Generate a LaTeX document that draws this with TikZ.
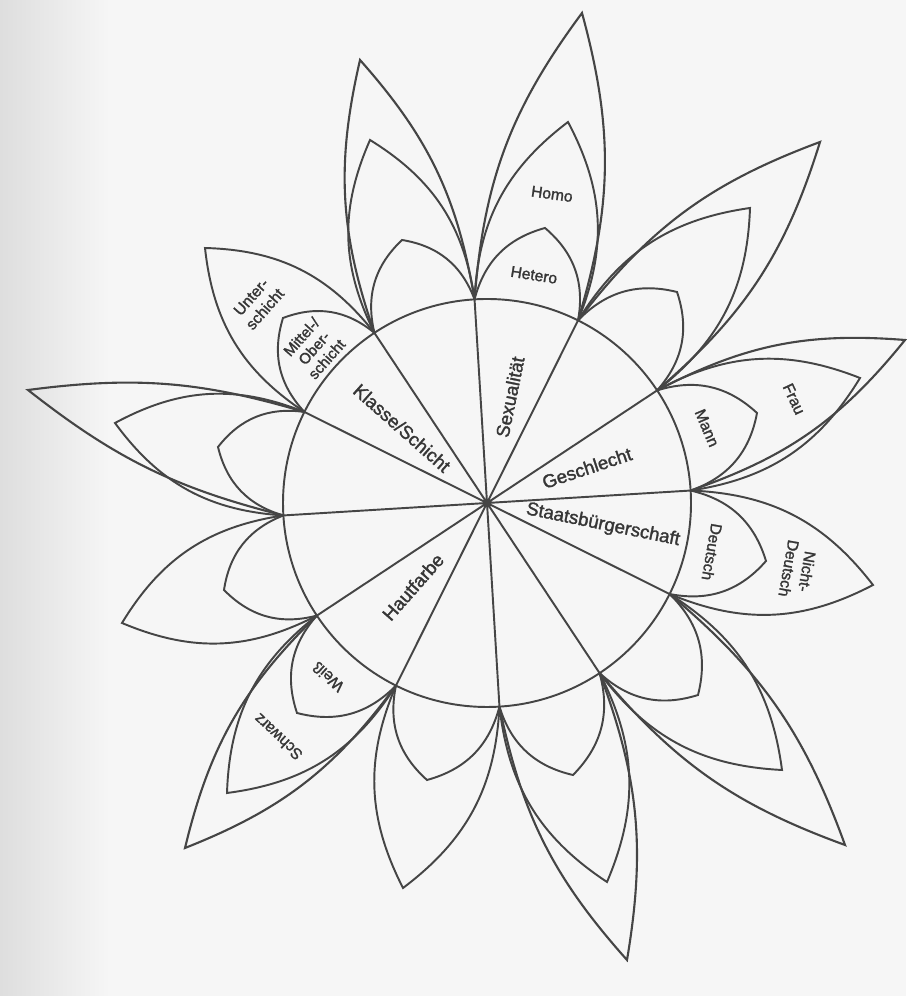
\documentclass[tikz,border=0pt]{standalone}
\usepackage{fontspec}
\setmainfont{Liberation Sans}
\newfontfamily\flowerfont{Liberation Sans}[FakeBold=1.6]
\usetikzlibrary{calc}
\definecolor{inkgray}{HTML}{454545}
\definecolor{textgray}{HTML}{363636}
\definecolor{paper}{HTML}{F6F6F6}

\begin{document}
\begin{tikzpicture}[
  x=0.02cm, y=0.02cm,
  petal/.style={draw=inkgray, line width=1.1pt, line join=miter},
  handpetal/.style={petal, line width=1.2pt},
  sector/.style={font=\flowerfont\fontsize{10.6}{12}\selectfont, text=textgray, inner sep=0pt},
  lbl/.style={font=\flowerfont\fontsize{8.9}{10.5}\selectfont, text=textgray, align=center, inner sep=0pt}
]
  \useasboundingbox[fill=paper] (0,0) rectangle (906,996);
  \shade[left color=black!13, right color=paper] (0,0) rectangle (110,996);

  % centre and the twelve points on the circle
  \coordinate (ctr) at (487,493);
  \coordinate (v0) at ($(ctr)+(3.5:204)$);
  \coordinate (v1) at ($(ctr)+(33.5:204)$);
  \coordinate (v2) at ($(ctr)+(63.5:204)$);
  \coordinate (v3) at ($(ctr)+(93.5:204)$);
  \coordinate (v4) at ($(ctr)+(123.5:204)$);
  \coordinate (v5) at ($(ctr)+(153.5:204)$);
  \coordinate (v6) at ($(ctr)+(183.5:204)$);
  \coordinate (v7) at ($(ctr)+(213.5:204)$);
  \coordinate (v8) at ($(ctr)+(243.5:204)$);
  \coordinate (v9) at ($(ctr)+(273.5:204)$);
  \coordinate (v10) at ($(ctr)+(303.5:204)$);
  \coordinate (v11) at ($(ctr)+(333.5:204)$);

  \draw[petal] (ctr) circle[radius=204];
  \draw[petal] (ctr) -- (v0) (ctr) -- (v1) (ctr) -- (v2) (ctr) -- (v3)
    (ctr) -- (v4) (ctr) -- (v5) (ctr) -- (v6) (ctr) -- (v7)
    (ctr) -- (v8) (ctr) -- (v9) (ctr) -- (v10) (ctr) -- (v11);

  % Geschlecht
  \draw[petal] (v0) to[bend right=30] (757,583) to[bend right=30] (v1);
  \draw[petal] (v0) to[bend right=25] (860,618) to[bend right=25] (v1);
  \draw[handpetal] (v0) to[bend right=16] (905,656) to[bend right=16] (v1);
  % --
  \draw[petal] (v1) to[bend right=30] (677,704) to[bend right=30] (v2);
  \draw[petal] (v1) to[bend right=25] (750,788) to[bend right=25] (v2);
  \draw[handpetal] (v1) to[bend right=16] (820,854) to[bend right=16] (v2);
  % Sexualitaet
  \draw[petal] (v2) to[bend right=30] (545,768) to[bend right=30] (v3);
  \draw[petal] (v2) to[bend right=25] (568,874) to[bend right=25] (v3);
  \draw[handpetal] (v2) to[bend right=16] (582,983) to[bend right=16] (v3);
  % --
  \draw[petal] (v3) to[bend right=30] (402,756) to[bend right=30] (v4);
  \draw[petal] (v3) to[bend right=25] (370,856) to[bend right=25] (v4);
  \draw[handpetal] (v3) to[bend right=16] (360,936) to[bend right=16] (v4);
  % Klasse/Schicht
  \draw[petal] (v4) to[bend right=30] (283,678) to[bend right=30] (v5);
  \draw[petal] (v4) to[bend right=25] (205,748) to[bend right=25] (v5);
  % --
  \draw[petal] (v5) to[bend right=30] (218,549) to[bend right=30] (v6);
  \draw[petal] (v5) to[bend right=25] (115,573) to[bend right=25] (v6);
  \draw[handpetal] (v5) to[bend right=12] (28,606) to[bend right=12] (v6);
  % --
  \draw[petal] (v6) to[bend right=30] (224,406) to[bend right=30] (v7);
  \draw[petal] (v6) to[bend right=25] (122,373) to[bend right=25] (v7);
  % Hautfarbe
  \draw[petal] (v7) to[bend right=30] (297,283) to[bend right=30] (v8);
  \draw[petal] (v7) to[bend right=25] (227,203) to[bend right=25] (v8);
  \draw[handpetal] (v7) to[bend right=16] (185,148) to[bend right=16] (v8);
  % --
  \draw[petal] (v8) to[bend right=30] (427,216) to[bend right=30] (v9);
  \draw[petal] (v8) to[bend right=25] (403,108) to[bend right=25] (v9);
  % --
  \draw[petal] (v9) to[bend right=30] (573,221) to[bend right=30] (v10);
  \draw[petal] (v9) to[bend right=25] (607,114) to[bend right=25] (v10);
  \draw[handpetal] (v9) to[bend right=15] (627,36) to[bend right=15] (v10);
  % --
  \draw[petal] (v10) to[bend right=30] (698,301) to[bend right=30] (v11);
  \draw[petal] (v10) to[bend right=25] (782,226) to[bend right=25] (v11);
  \draw[handpetal] (v10) to[bend right=15] (845,151) to[bend right=15] (v11);
  % Staatsbuergerschaft
  \draw[petal] (v11) to[bend right=30] (766,435) to[bend right=30] (v0);
  \draw[petal] (v11) to[bend right=25] (873,411) to[bend right=25] (v0);

  % labels in the circle
  \node[sector, rotate=78.5] (sex) at (510,599) {Sexualität};
  \node[sector, rotate=18.5] (gen) at (587,528) {Geschlecht};
  \node[sector, rotate=-11.5] (cit) at (603,471) {Staatsbürgerschaft};
  \node[sector, rotate=48.5] (skin) at (413,409) {Hautfarbe};
  \node[sector, rotate=-41.5] (cls) at (402,568) {Klasse/Schicht};

  % labels in the petals
  \node[lbl, rotate=-9] (hetero) at (534,721) {Hetero};
  \node[lbl, rotate=-8] (homo) at (552,802) {Homo};
  \node[lbl, rotate=-67] (mann) at (707,568) {Mann};
  \node[lbl, rotate=-65] (frau) at (794,597) {Frau};
  \node[lbl, rotate=-100] (deu) at (712,444) {Deutsch};
  \node[lbl, rotate=-100] (ndeu) at (798,426) {Nicht-\\Deutsch};
  \node[lbl, rotate=138] (weiss) at (328,319) {Weiß};
  \node[lbl, rotate=137] (schwarz) at (278,259) {Schwarz};
  \node[lbl, rotate=48.5] (unter) at (258,693) {Unter-\\schicht};
  \node[lbl, rotate=48.5, font=\flowerfont\fontsize{8.6}{9.6}\selectfont] (mittel) at (314,648) {Mittel-/\\Ober-\\schicht};
\end{tikzpicture}
\end{document}
